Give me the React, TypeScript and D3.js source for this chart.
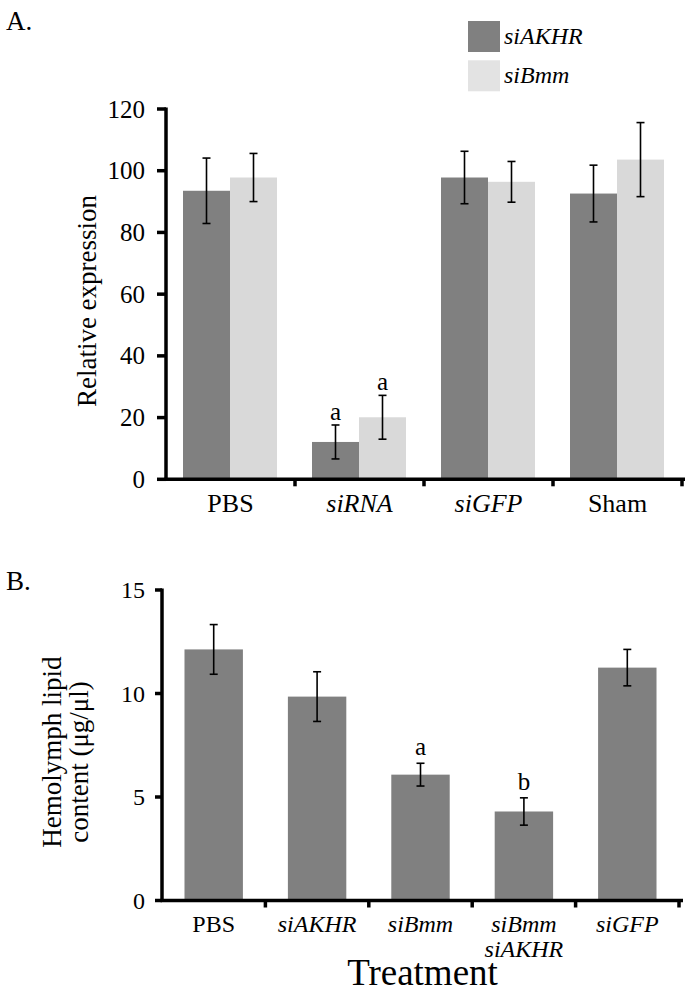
import React from "react";
import * as d3 from "d3";

// Panel A data
const catsA = ["PBS", "siRNA", "siGFP", "Sham"];
const italicA = [false, true, true, false];
const seriesA = ["siAKHR", "siBmm"];
const meanAKHR = [93.5, 12.1, 97.8, 92.6];
const errAKHR = [10.6, 5.5, 8.5, 9.2];
const meanBmm = [97.8, 20.1, 96.4, 103.6];
const errBmm = [7.8, 7.1, 6.6, 12.0];
const sigA = [["", ""], ["a", "a"], ["", ""], ["", ""]];
const ticksA = [0, 20, 40, 60, 80, 100, 120];

// Panel B data
const catsB = [["PBS"], ["siAKHR"], ["siBmm"], ["siBmm", "siAKHR"], ["siGFP"]];
const italicB = [false, true, true, true, true];
const meanB = [12.13, 9.85, 6.08, 4.3, 11.25];
const errB = [1.2, 1.2, 0.55, 0.66, 0.88];
const sigB = ["", "", "a", "b", ""];
const ticksB = [0, 5, 10, 15];

const DARK = "#808080";
const LIGHT = "#d9d9d9";
const FONT = "'Liberation Serif', 'Times New Roman', serif";

export default function App() {
  const W = 691, H = 993;

  // Panel A scales
  const xA = d3.scaleBand<string>().domain(catsA).range([166, 682]).paddingInner(0).paddingOuter(0);
  const yA = d3.scaleLinear().domain([0, 120]).range([479.3, 109]);
  const sub = d3.scaleBand<string>().domain(seriesA).range([17, xA.bandwidth() - 18]);
  const seriesVals = [meanAKHR, meanBmm];
  const seriesErr = [errAKHR, errBmm];
  const seriesCol = [DARK, LIGHT];

  // Panel B scales
  const labB = catsB.map((c) => c.join(" "));
  const xB = d3.scaleBand<string>().domain(labB).range([162, 679]).paddingInner(0.435).paddingOuter(0.2175);
  const yB = d3.scaleLinear().domain([0, 15]).range([900.5, 590]);

  const cap = 4;

  return (
    <svg width={W} height={H} style={{ position: "absolute", left: 0, top: 0, background: "#fff" }} fontFamily={FONT}>
      <rect width={W} height={H} fill="#fff" />
      {/* Panel A */}
      <text x={6} y={30} fontSize={27}>A.</text>
      {/* Legend */}
      {seriesA.map((s, i) => (
        <g key={s}>
          <rect x={468} y={21 + i * 39.3} width={32} height={31} fill={i === 0 ? DARK : "#e3e3e3"} />
          <text x={504} y={44 + i * 39} fontSize={24} fontStyle="italic">{s}</text>
        </g>
      ))}
      {catsA.map((c, ci) =>
        seriesA.map((s, si) => {
          const x0 = (xA(c) as number) + (sub(s) as number);
          const bw = sub.bandwidth();
          const v = seriesVals[si][ci];
          const e = seriesErr[si][ci];
          const cx = x0 + bw / 2;
          return (
            <g key={c + s}>
              <rect x={x0} y={yA(v)} width={bw} height={yA(0) - yA(v)} fill={seriesCol[si]} />
              <line x1={cx} x2={cx} y1={yA(v + e)} y2={yA(v - e)} stroke="#000" strokeWidth={1.6} />
              <line x1={cx - cap} x2={cx + cap} y1={yA(v + e)} y2={yA(v + e)} stroke="#000" strokeWidth={1.6} />
              <line x1={cx - cap} x2={cx + cap} y1={yA(v - e)} y2={yA(v - e)} stroke="#000" strokeWidth={1.6} />
              {sigA[ci][si] && (
                <text x={cx} y={yA(v + e) - 5} fontSize={25} textAnchor="middle">{sigA[ci][si]}</text>
              )}
            </g>
          );
        })
      )}
      {/* Axes A */}
      <line x1={166} x2={166} y1={yA(120) - 1.5} y2={yA(0) + 1.5} stroke="#000" strokeWidth={3.5} />
      <line x1={164.5} x2={685} y1={yA(0)} y2={yA(0)} stroke="#000" strokeWidth={3.5} />
      {ticksA.map((t) => (
        <g key={t}>
          <line x1={157} x2={166} y1={yA(t)} y2={yA(t)} stroke="#000" strokeWidth={3.5} />
          <text x={145} y={yA(t) + 8.5} fontSize={25} textAnchor="end">{t}</text>
        </g>
      ))}
      {catsA.map((c, i) => (
        <g key={c}>
          <line x1={(xA(c) as number) + xA.bandwidth()} x2={(xA(c) as number) + xA.bandwidth()} y1={yA(0)} y2={yA(0) + 7} stroke="#000" strokeWidth={3.5} />
          <text x={(xA(c) as number) + xA.bandwidth() / 2} y={512} fontSize={26} textAnchor="middle" fontStyle={italicA[i] ? "italic" : "normal"}>{c}</text>
        </g>
      ))}
      <text transform={`translate(96,301) rotate(-90)`} fontSize={27} textAnchor="middle">Relative expression</text>

      {/* Panel B */}
      <text x={6} y={590} fontSize={27}>B.</text>
      {labB.map((c, i) => {
        const x0 = xB(c) as number;
        const bw = xB.bandwidth();
        const cx = x0 + bw / 2;
        const v = meanB[i];
        const e = errB[i];
        return (
          <g key={c}>
            <rect x={x0} y={yB(v)} width={bw} height={yB(0) - yB(v)} fill={DARK} />
            <line x1={cx} x2={cx} y1={yB(v + e)} y2={yB(v - e)} stroke="#000" strokeWidth={1.6} />
            <line x1={cx - cap} x2={cx + cap} y1={yB(v + e)} y2={yB(v + e)} stroke="#000" strokeWidth={1.6} />
            <line x1={cx - cap} x2={cx + cap} y1={yB(v - e)} y2={yB(v - e)} stroke="#000" strokeWidth={1.6} />
            {sigB[i] && (
              <text x={cx} y={yB(v + e) - 8} fontSize={25} textAnchor="middle">{sigB[i]}</text>
            )}
          </g>
        );
      })}
      <line x1={162} x2={162} y1={yB(15) - 1.5} y2={yB(0) + 1.5} stroke="#000" strokeWidth={3.5} />
      <line x1={160.5} x2={683} y1={yB(0)} y2={yB(0)} stroke="#000" strokeWidth={3.5} />
      {ticksB.map((t) => (
        <g key={t}>
          <line x1={155} x2={162} y1={yB(t)} y2={yB(t)} stroke="#000" strokeWidth={3.5} />
          <text x={145} y={yB(t) + 8} fontSize={24} textAnchor="end">{t}</text>
        </g>
      ))}
      {labB.map((c, i) => {
        const step = xB.step();
        const bx = 162 + (i + 1) * step;
        const cx = (xB(c) as number) + xB.bandwidth() / 2;
        return (
          <g key={c}>
            <line x1={bx} x2={bx} y1={yB(0)} y2={yB(0) + 7} stroke="#000" strokeWidth={3.5} />
            {catsB[i].map((ln, li) => (
              <text key={li} x={cx} y={932 + li * 25} fontSize={24} textAnchor="middle" fontStyle={italicB[i] ? "italic" : "normal"}>{ln}</text>
            ))}
          </g>
        );
      })}
      <text x={(162 + 683) / 2} y={985} fontSize={37} textAnchor="middle">Treatment</text>
      <text transform={`translate(61,752) rotate(-90)`} fontSize={27} textAnchor="middle">Hemolymph lipid</text>
      <text transform={`translate(88,762) rotate(-90)`} fontSize={27} textAnchor="middle">content (μg/μl)</text>
    </svg>
  );
}
